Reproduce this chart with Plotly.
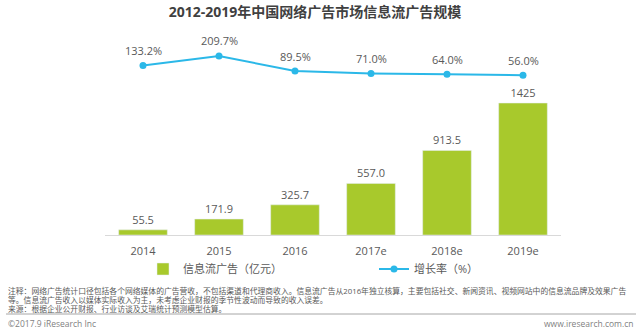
import plotly.graph_objects as go

years = ["2014", "2015", "2016", "2017e", "2018e", "2019e"]
ad_revenue = [55.5, 171.9, 325.7, 557.0, 913.5, 1425]
ad_labels = ["55.5", "171.9", "325.7", "557.0", "913.5", "1425"]
growth = [133.2, 209.7, 89.5, 71.0, 64.0, 56.0]
growth_labels = ["133.2%", "209.7%", "89.5%", "71.0%", "64.0%", "56.0%"]

title = "2012-2019年中国网络广告市场信息流广告规模"
bar_name = "信息流广告（亿元）"
line_name = "增长率（%）"
notes = [
    "注释：网络广告统计口径包括各个网络媒体的广告营收，不包括渠道和代理商收入。信息流广告从2016年独立核算，主要包括社交、新闻资讯、视频网站中的信息流品牌及效果广告",
    "等。信息流广告收入以媒体实际收入为主，未考虑企业财报的季节性波动而导致的收入误差。",
    "来源：根据企业公开财报、行业访谈及艾瑞统计预测模型估算。",
]
copyright_text = "©2017.9 iResearch Inc"
site_text = "www.iresearch.com.cn"

FONT = "Open Sans, Noto Sans CJK SC, sans-serif"
GRAY = "#595959"
GREEN = "#A8C92C"
BLUE = "#2BB8E8"

# plot area in pixels
L, R, T, B = 105, 561, 45, 235
W, H = R - L, B - T


def px(x):
    return (x - L) / W


def py(y):
    return (B - y) / H


fig = go.Figure()
fig.add_trace(go.Bar(
    x=years, y=ad_revenue, name=bar_name, marker_color=GREEN,
    width=0.64, text=ad_labels, textposition="outside",
    textfont=dict(size=11, color=GRAY, family=FONT), cliponaxis=False,
    legend="legend",
))
fig.add_trace(go.Scatter(
    x=years, y=growth, name=line_name, yaxis="y2", mode="lines+markers",
    line=dict(color=BLUE, width=2), marker=dict(size=7, color=BLUE),
    cliponaxis=False, legend="legend2",
))

annotations = []
for i, (g, lab) in enumerate(zip(growth, growth_labels)):
    annotations.append(dict(x=i, y=g, yref="y2", xref="x", text=lab, showarrow=False,
                            yshift=15, font=dict(size=11, color=GRAY, family=FONT)))

note_y = [291, 300, 309]
for t, yy in zip(notes, note_y):
    annotations.append(dict(x=px(6), y=py(yy), xref="paper", yref="paper", text=t,
                            showarrow=False, xanchor="left", yanchor="middle",
                            font=dict(size=7.8, color=GRAY, family=FONT)))
annotations.append(dict(x=px(6), y=py(323), xref="paper", yref="paper", text=copyright_text,
                        showarrow=False, xanchor="left", yanchor="middle",
                        font=dict(size=8.5, color="#7f7f7f", family=FONT)))
annotations.append(dict(x=px(636), y=py(323), xref="paper", yref="paper", text=site_text,
                        showarrow=False, xanchor="right", yanchor="middle",
                        font=dict(size=8.5, color="#7f7f7f", family=FONT)))

legend_common = dict(orientation="h", yanchor="middle", xanchor="left", itemwidth=30,
                     font=dict(size=11, color=GRAY, family=FONT), bgcolor="rgba(0,0,0,0)")

fig.update_layout(
    width=640, height=330,
    margin=dict(l=L, r=640 - R, t=T, b=330 - B, pad=0),
    paper_bgcolor="white", plot_bgcolor="white",
    title=dict(text="<b>" + title + "</b>", x=315 / 640, xanchor="center", y=1 - 12 / 330,
               yanchor="middle", font=dict(size=14, color="#404040", family=FONT)),
    xaxis=dict(type="category", range=[-0.5, 5.5], autorange=False, showgrid=False,
               showline=True, linecolor="#d9d9d9", linewidth=1,
               tickfont=dict(size=11, color=GRAY, family=FONT), ticks="",
               ticklabelstandoff=6),
    yaxis=dict(range=[0, 2052], autorange=False, visible=False, showgrid=False),
    yaxis2=dict(range=[-1216, 297], autorange=False, visible=False, showgrid=False,
                overlaying="y"),
    showlegend=True,
    legend=dict(x=px(143), y=py(269), **legend_common),
    legend2=dict(x=px(374), y=py(269), **legend_common),
    annotations=annotations,
    shapes=[dict(type="line", xref="paper", yref="paper", x0=px(6), x1=px(636),
                 y0=py(314), y1=py(314), line=dict(color="#a6a6a6", width=1))],
)

fig.write_html("out.html")
